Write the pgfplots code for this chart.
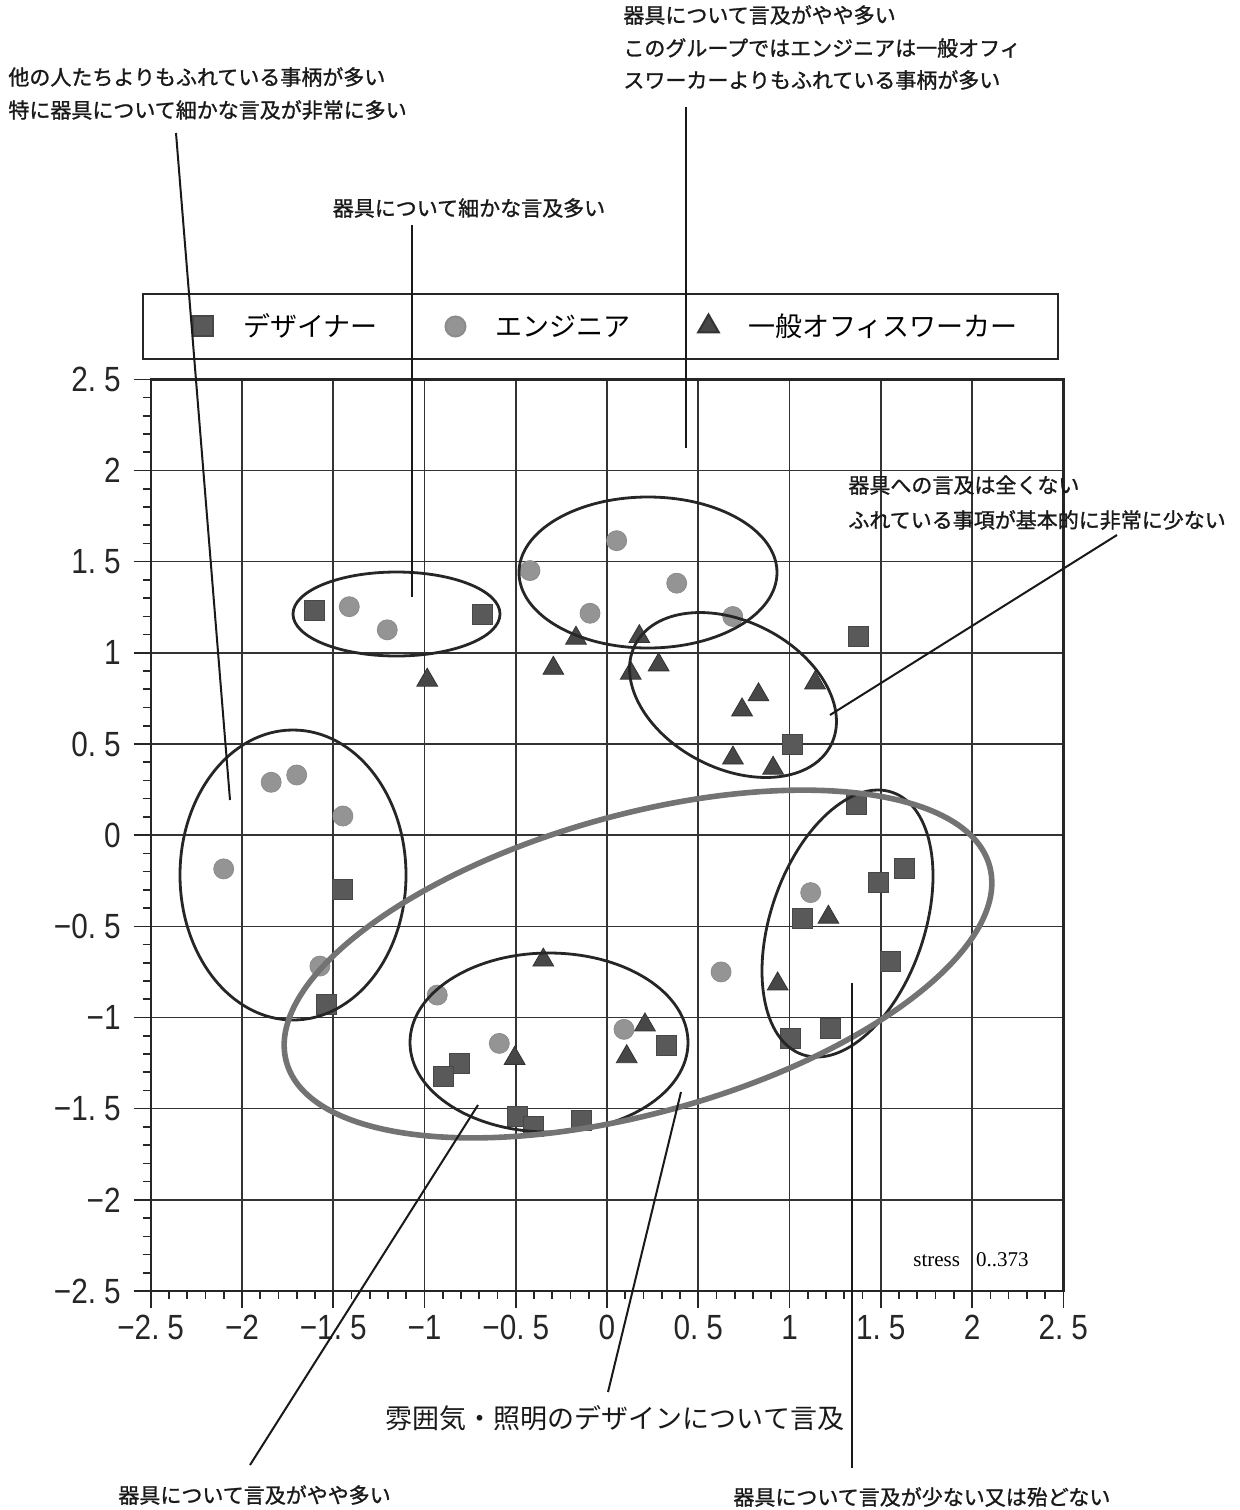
\documentclass[border=0pt]{standalone}
\usepackage{pgfplots}
\pgfplotsset{compat=1.18}
\usepackage{pgfplotstable}
\usepackage{fontspec}
\setmainfont{Noto Sans CJK JP}
\newfontfamily\jp{Noto Sans CJK JP}
\newfontfamily\jpb[FakeBold=1.2]{Noto Sans CJK JP}
\newfontfamily\numfont[FakeStretch=0.85]{Liberation Sans}
\newfontfamily\serif{Liberation Serif}

% MDS coordinates of the three respondent groups
\pgfplotstableread{
x y
-1.604 1.235
-0.680 1.208
1.375 1.090
1.014 0.500
1.364 0.170
-1.452 -0.300
1.487 -0.260
1.627 -0.180
1.072 -0.456
1.554 -0.695
1.226 -1.060
1.003 -1.114
-1.540 -0.930
-0.809 -1.251
-0.897 -1.325
0.327 -1.151
-0.490 -1.544
-0.404 -1.599
-0.139 -1.566
}\designer

\pgfplotstableread{
x y
-1.412 1.253
-1.204 1.126
0.053 1.615
-0.422 1.451
0.382 1.382
-0.093 1.217
0.689 1.199
-1.840 0.290
-1.700 0.330
-1.447 0.105
-2.100 -0.185
-1.573 -0.718
-0.930 -0.877
-0.590 -1.142
0.093 -1.065
0.625 -0.750
1.116 -0.315
}\engineer

\pgfplotstableread{
x y
-0.985 0.850
-0.170 1.080
0.177 1.089
-0.294 0.915
0.130 0.888
0.283 0.934
1.140 0.835
0.830 0.770
0.740 0.687
0.690 0.423
0.910 0.367
-0.349 -0.685
-0.506 -1.224
0.208 -1.041
0.108 -1.215
1.213 -0.450
0.935 -0.816
}\office

\begin{document}
\begin{tikzpicture}
\path[use as bounding box] (0,0) rectangle (620pt,-755pt);

\begin{axis}[
  at={(75.35pt,-645.5pt)}, anchor=south west,
  scale only axis, width=456.3pt, height=455.85pt,
  xmin=-2.5, xmax=2.5, ymin=-2.5, ymax=2.5,
  xtick={-2.5,-2,...,2.5}, ytick={-2.5,-2,...,2.5},
  xticklabels={−2.\hspace{4pt}5,−2,−1.\hspace{4pt}5,−1,−0.\hspace{4pt}5,0,0.\hspace{4pt}5,1,1.\hspace{4pt}5,2,2.\hspace{4pt}5},
  yticklabels={−2.\hspace{4pt}5,−2,−1.\hspace{4pt}5,−1,−0.\hspace{4pt}5,0,0.\hspace{4pt}5,1,1.\hspace{4pt}5,2,2.\hspace{4pt}5},
  minor tick num=4,
  tick pos=left, tick align=outside,
  major tick length=8.5pt, minor tick length=4pt,
  tick style={black!85, line width=0.8pt},
  grid=major, major grid style={black!80, line width=0.8pt},
  axis line style={black!85, line width=1.2pt},
  ticklabel style={font=\numfont\fontsize{17.5}{18}\selectfont, text=black!85},
  yticklabel style={xshift=-3pt},
  legend columns=3,
  legend style={at={(-0.0095,1.0212)}, anchor=south west,
    draw=black!85, line width=1pt, inner xsep=20pt, inner ysep=9.75pt,
    font=\jp\fontsize{13.5}{14}\selectfont,
    nodes={inner sep=0pt, text height=11.75pt, text depth=1.25pt},
    /tikz/every odd column/.append style={column sep=10pt},
    /tikz/every even column/.append style={column sep=29pt}},
  legend image code/.code={%
    \path (0pt,0pt) node[minimum width=20pt, minimum height=1pt, inner sep=0pt, draw=none, fill=none] {};
    \path[#1] plot coordinates {(0pt,0pt)};},
]
\addplot[only marks, mark=square*, mark size=5pt, draw=black!72, fill=black!65] table {\designer};
\addlegendentry{デザイナー}
\addplot[only marks, mark=*, mark size=5pt, draw=black!45, fill=black!42] table {\engineer};
\addlegendentry{エンジニア}
\addplot[only marks, mark=triangle*, mark size=6pt, draw=black!80, fill=black!72] table {\office};
\addlegendentry{一般オフィスワーカー}
\end{axis}

\begin{scope}[x=0.5pt, y=-0.5pt]
  % cluster outlines
  \begin{scope}[draw=black!85, line width=1.4pt]
    \draw (293,875) ellipse [x radius=56.5pt, y radius=72.5pt];
    \draw (396.5,614) ellipse [x radius=51.75pt, y radius=21pt];
    \draw (648,572.5) ellipse [x radius=64.5pt, y radius=37.75pt];
    \draw[rotate around={-27.2:(733,695)}] (733,695) ellipse [x radius=55pt, y radius=36.75pt];
    \draw[rotate around={71.1:(847.5,923.5)}] (847.5,923.5) ellipse [x radius=69.3pt, y radius=38.45pt];
    \draw (549,1042.5) ellipse [x radius=69.5pt, y radius=44.75pt];
  \end{scope}
  \draw[black!55, line width=2.8pt, rotate around={15.6:(638,964)}] (638,964) ellipse [x radius=182.5pt, y radius=74.5pt];

  % leader lines
  \begin{scope}[black!90, line width=1pt]
    \draw (176,133) -- (230,800);
    \draw (412,225) -- (412,597);
    \draw (686,107) -- (686,448);
    \draw (1117,535) -- (830,715);
    \draw (478,1105) -- (250,1465);
    \draw (681,1092) -- (608,1392);
    \draw (852,983) -- (852,1468);
  \end{scope}

  % comments
  \begin{scope}[every node/.style={inner sep=0pt, font=\jpb\fontsize{10.5}{12}\selectfont, text=black!90}]
    \node[anchor=west] at (8,77) {他の人たちよりもふれている事柄が多い};
    \node[anchor=west] at (8,110) {特に器具について細かな言及が非常に多い};
    \node at (469,208) {器具について細かな言及多い};
    \node[anchor=west] at (623,15) {器具について言及がやや多い};
    \node[anchor=west] at (623,48) {このグループではエンジニアは一般オフィ};
    \node[anchor=west] at (623,80) {スワーカーよりもふれている事柄が多い};
    \node[anchor=west] at (848,485) {器具への言及は全くない};
    \node[anchor=west] at (848,520) {ふれている事項が基本的に非常に少ない};
    \node[anchor=west] at (118,1495) {器具について言及がやや多い};
    \node[anchor=west] at (733,1497) {器具について言及が少ない又は殆どない};
    \node[font=\jp\fontsize{13.5}{15}\selectfont] at (615,1418) {雰囲気・照明のデザインについて言及};
  \end{scope}
  \node[anchor=base west, inner sep=0pt, font=\serif\fontsize{10.5}{12}\selectfont] at (913,1266) {stress\hspace{8pt}0..373};
\end{scope}
\end{tikzpicture}
\end{document}
